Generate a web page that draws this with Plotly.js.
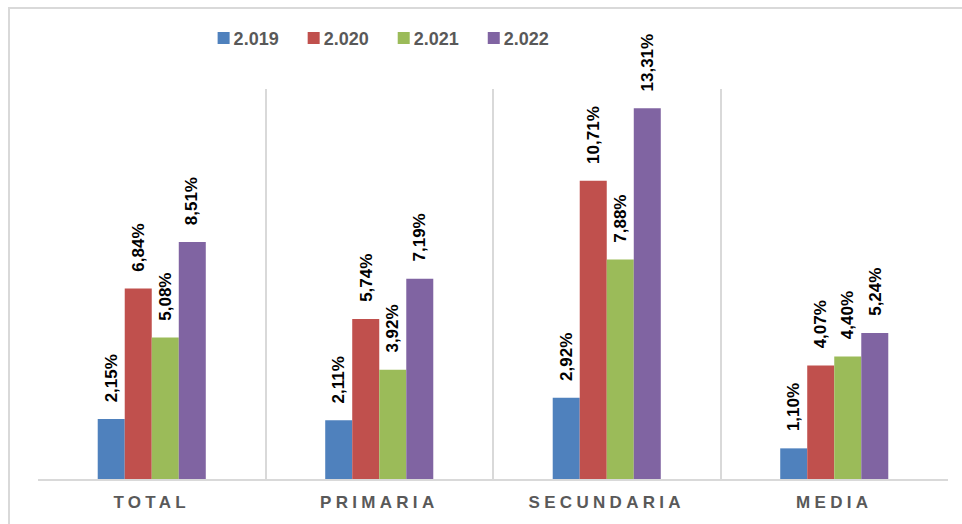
<!DOCTYPE html>
<html>
<head>
<meta charset="utf-8">
<script src="https://cdn.plot.ly/plotly-3.0.1.min.js"></script>
<style>
  html, body { margin: 0; padding: 0; background: #ffffff; }
  #frame { position: absolute; left: 8px; top: 7px; width: 960px; height: 520px;
           border-left: 2px solid #d9d9d9; border-top: 2px solid #d9d9d9; }
  #chart { position: absolute; left: 0; top: 0; width: 962px; height: 524px; }
  .xtick text { letter-spacing: 4.3px; }
  .legend .legendtext { transform: translateX(-10px); }
</style>
</head>
<body>
<div id="frame"></div>
<div id="chart"></div>
<script>
const categories = ["TOTAL", "PRIMARIA", "SECUNDARIA", "MEDIA"];
const seriesNames = ["2.019", "2.020", "2.021", "2.022"];
const v2019 = [2.15, 2.11, 2.92, 1.10];
const v2020 = [6.84, 5.74, 10.71, 4.07];
const v2021 = [5.08, 3.92, 7.88, 4.40];
const v2022 = [8.51, 7.19, 13.31, 5.24];
const colors = ["#4F81BD", "#C0504D", "#9BBB59", "#8064A2"];

const allValues = [v2019, v2020, v2021, v2022];
const fmt = v => v.toFixed(2).replace(".", ",") + "%";
const FONT = "Liberation Sans, Arial, sans-serif";

const W = 962, H = 524;
const margin = { l: 38, r: 14, t: 89, b: 45 };
const bargap = 0.525;
const plotW = W - margin.l - margin.r;
const barPx = plotW / categories.length * (1 - bargap) / seriesNames.length;

const traces = allValues.map((vals, i) => ({
  type: "bar",
  name: seriesNames[i],
  x: categories,
  y: vals,
  marker: { color: colors[i], line: { width: 0 } },
  hoverinfo: "skip"
}));

const annotations = [];
allValues.forEach((vals, i) => {
  vals.forEach((v, j) => {
    annotations.push({
      x: categories[j], y: v, xref: "x", yref: "y",
      text: fmt(v), showarrow: false, textangle: -90,
      xanchor: "center", yanchor: "bottom",
      xshift: (i - (seriesNames.length - 1) / 2) * barPx,
      yshift: 15,
      font: { family: FONT, size: 17, color: "#000000", weight: "bold" }
    });
  });
});

const layout = {
  width: W, height: H,
  margin: margin,
  paper_bgcolor: "rgba(0,0,0,0)",
  plot_bgcolor: "rgba(0,0,0,0)",
  barmode: "group",
  bargap: bargap,
  bargroupgap: 0,
  showlegend: true,
  legend: {
    orientation: "h", x: 0.182, xanchor: "left", y: 1.13, yanchor: "middle",
    font: { family: FONT, size: 18, color: "#595959", weight: "bold" },
    traceorder: "normal"
  },
  xaxis: {
    type: "category",
    tickson: "boundaries",
    showgrid: true, gridcolor: "#d9d9d9", gridwidth: 2,
    showline: true, linecolor: "#d9d9d9", linewidth: 2,
    ticks: "", ticklen: 0, ticklabelstandoff: 7,
    tickfont: { family: FONT, size: 17, color: "#595959", weight: "bold" },
    fixedrange: true
  },
  yaxis: {
    range: [0, 14],
    showgrid: false, zeroline: false, showline: false,
    showticklabels: false, ticks: "", fixedrange: true
  },
  annotations: annotations
};

Plotly.newPlot("chart", traces, layout, { displayModeBar: false, staticPlot: true });
</script>
</body>
</html>
